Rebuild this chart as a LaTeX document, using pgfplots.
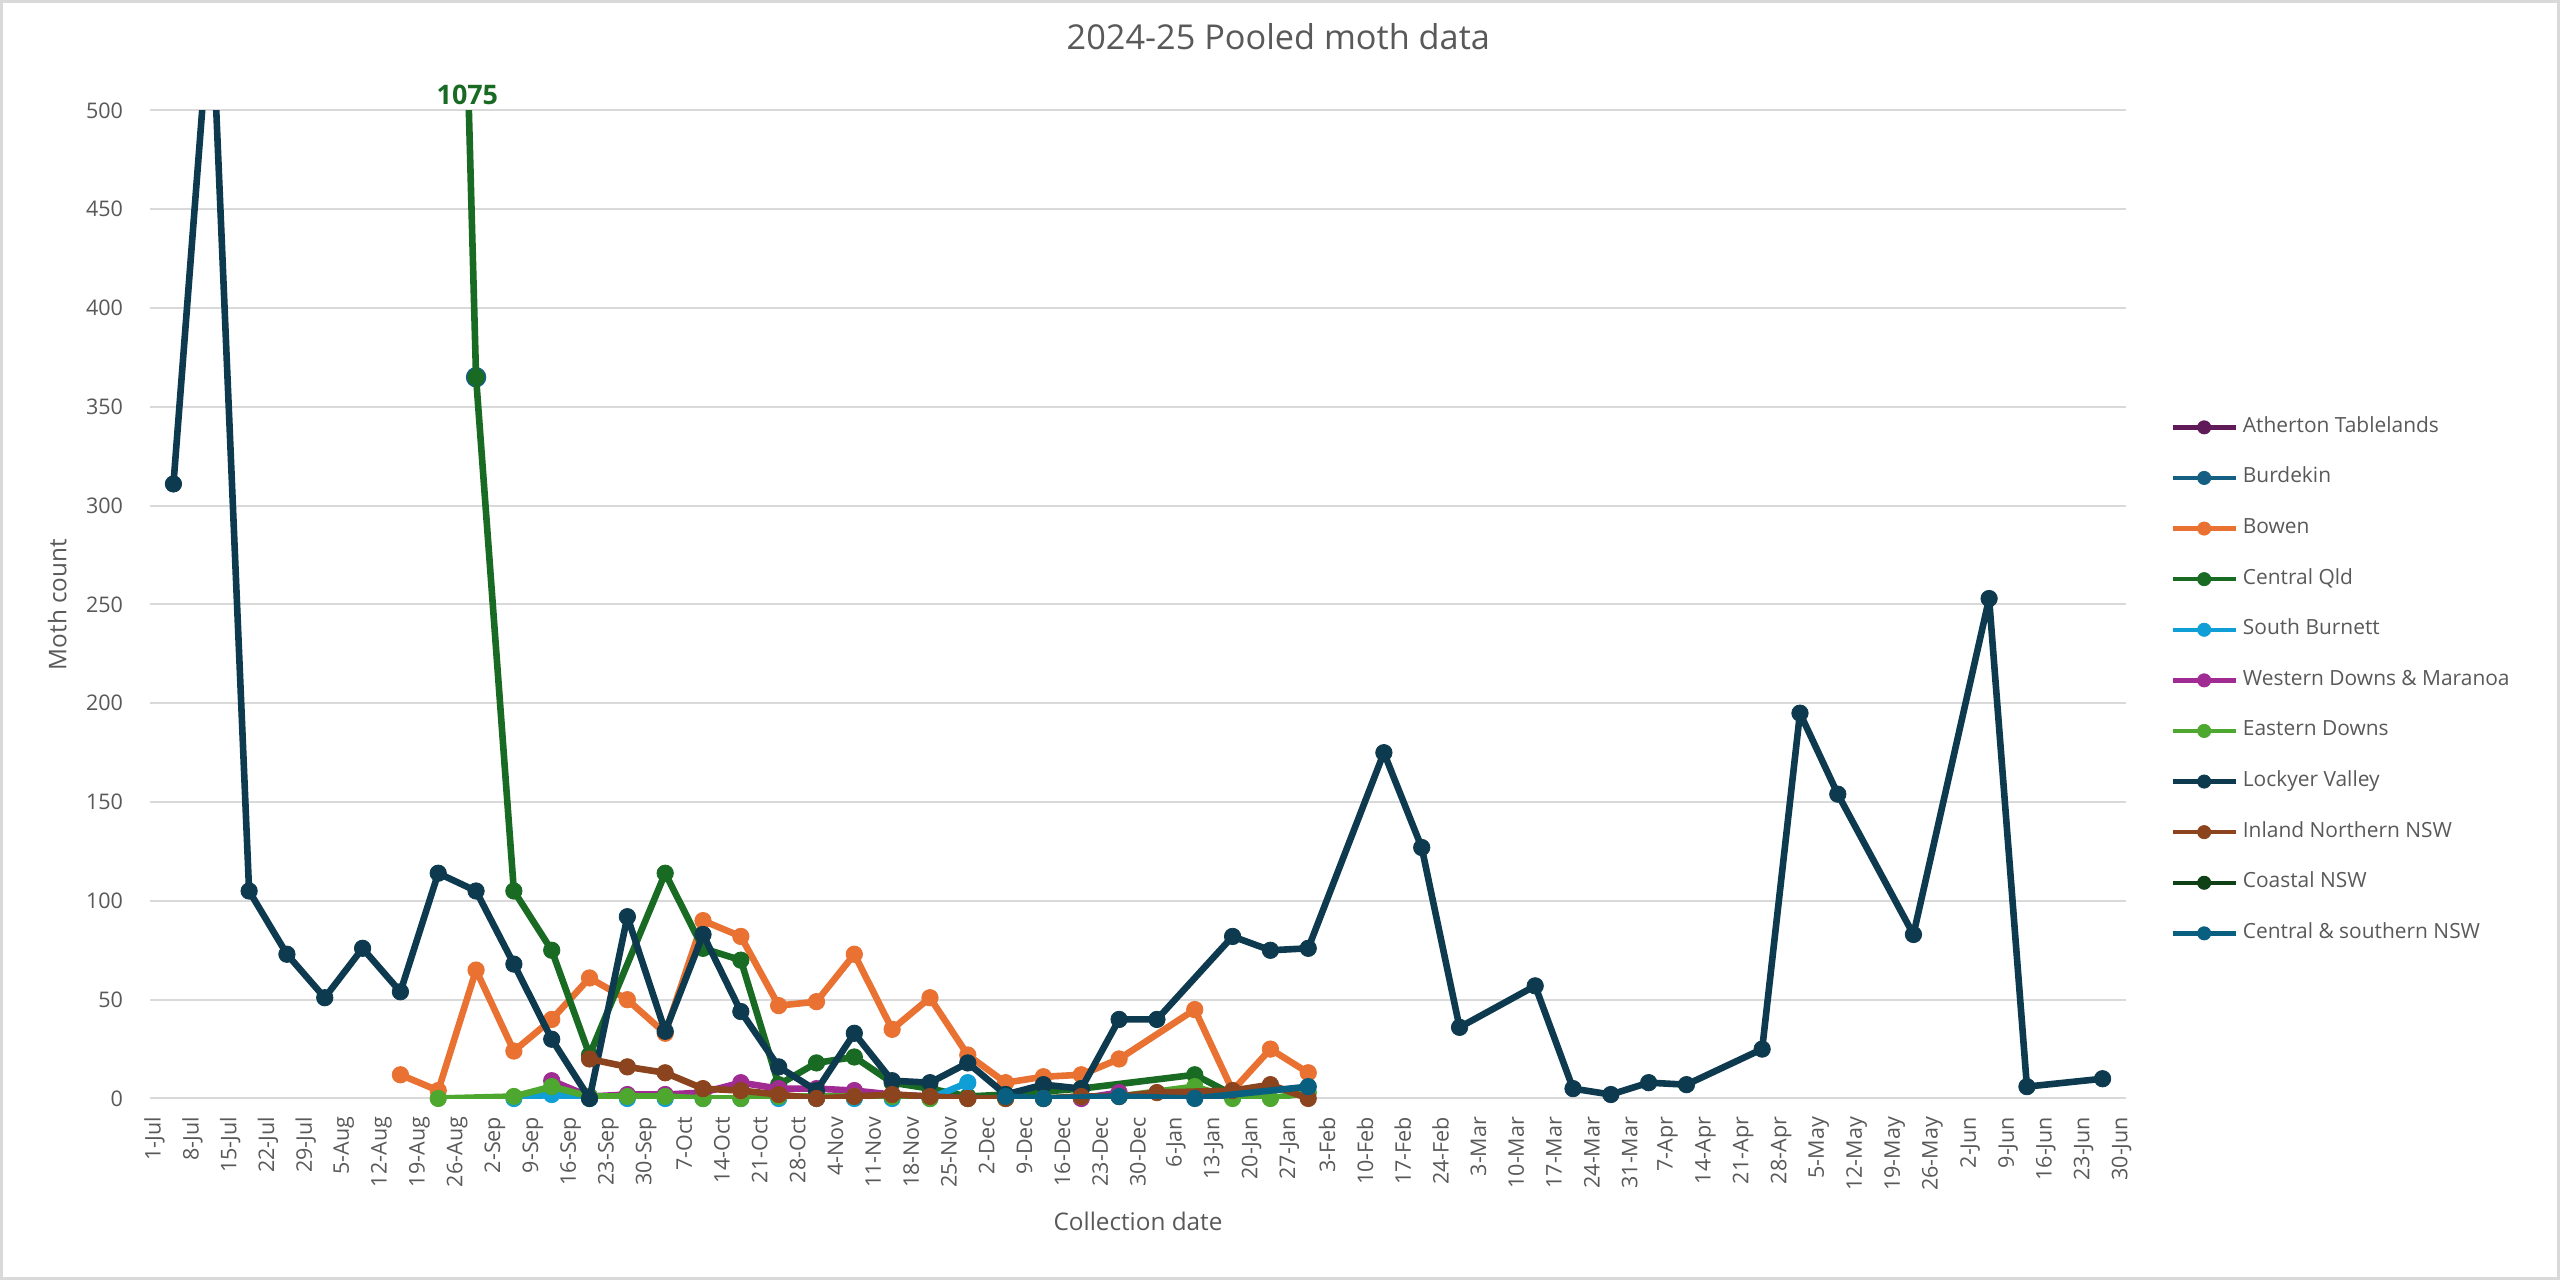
\documentclass[border=0pt]{standalone}
\usepackage{pgfplots}
\pgfplotsset{compat=1.18}
\usepackage{fontspec}
\setmainfont{Open Sans}
\definecolor{cAth}{HTML}{601A58}
\definecolor{cBur}{HTML}{156082}
\definecolor{cBow}{HTML}{E97132}
\definecolor{cCQ}{HTML}{196B24}
\definecolor{cSB}{HTML}{0F9ED5}
\definecolor{cWD}{HTML}{A02B93}
\definecolor{cED}{HTML}{4EA72E}
\definecolor{cLV}{HTML}{0D3A4E}
\definecolor{cINN}{HTML}{8C441E}
\definecolor{cCN}{HTML}{0F4016}
\definecolor{cCSN}{HTML}{095F80}
\definecolor{cText}{HTML}{595959}
\definecolor{cGrid}{HTML}{D9D9D9}
\pgfplotsset{
  ser/.style={color=#1, line width=3.3bp, line join=round, mark=*, mark size=4.1bp, mark options={solid, fill=#1, draw=#1, line width=0.4bp}},
  serline/.style={color=#1, line width=3.3bp, line join=round, no markers},
  sermark/.style={color=#1, only marks, mark=*, mark size=4.1bp, mark options={solid, fill=#1, draw=#1, line width=0.4bp}},
  legser/.style={color=#1, line width=2.2bp, mark=*, mark size=3.3bp, mark options={solid, fill=#1, draw=#1, line width=0.4bp}},
}
\begin{document}
\begin{tikzpicture}[x=1bp,y=1bp]
\useasboundingbox (0,0) rectangle (1280,640);
\fill[white] (0,0) rectangle (1280,640);
\draw[cGrid, line width=1.5bp] (0.75,0.75) rectangle (1279.25,639.25);
\begin{axis}[
  at={(75bp,90.75bp)}, anchor=south west,
  scale only axis, width=988bp, height=494bp,
  xmin=-0.62, xmax=51.62, ymin=0, ymax=500,
  clip mode=individual,
  ytick={0,50,...,500},
  xtick={-0.5,0.5,...,51.5},
  xticklabels={1-Jul,8-Jul,15-Jul,22-Jul,29-Jul,5-Aug,12-Aug,19-Aug,26-Aug,2-Sep,9-Sep,16-Sep,23-Sep,30-Sep,7-Oct,14-Oct,21-Oct,28-Oct,4-Nov,11-Nov,18-Nov,25-Nov,2-Dec,9-Dec,16-Dec,23-Dec,30-Dec,6-Jan,13-Jan,20-Jan,27-Jan,3-Feb,10-Feb,17-Feb,24-Feb,3-Mar,10-Mar,17-Mar,24-Mar,31-Mar,7-Apr,14-Apr,21-Apr,28-Apr,5-May,12-May,19-May,26-May,2-Jun,9-Jun,16-Jun,23-Jun,30-Jun},
  ymajorgrids, grid style={cGrid, line width=1bp},
  axis line style={draw=none},
  major tick length=0pt,
  /pgf/number format/assume math mode=true,
  tick label style={font=\fontsize{10.8}{12}\selectfont, text=cText},
  xticklabel style={rotate=90, anchor=east, inner sep=0pt},
  yticklabel style={anchor=east, inner sep=0pt},
  xticklabel shift=9bp, yticklabel shift=13.3bp,
  title={2024-25 Pooled moth data},
  title style={at={(axis description cs:0.571,1.0622)}, anchor=center, inner sep=0pt, font=\fontsize{17.2}{20}\selectfont, text=cText},
  xlabel={Collection date},
  xlabel style={at={(axis description cs:0.5,-0.124)}, anchor=center, inner sep=0pt, font=\fontsize{12.2}{14}\selectfont, text=cText},
  ylabel={Moth count},
  ylabel style={at={(axis description cs:-0.047,0.5)}, anchor=center, inner sep=0pt, font=\fontsize{12.2}{14}\selectfont, text=cText},
  legend style={at={(axis description cs:1.0223,0.6898)}, anchor=north west, draw=none, fill=none, inner sep=0pt, row sep=15.3bp, font=\fontsize{10.5}{12}\selectfont, text=cText, nodes={inner sep=0pt, text height=7.5bp, text depth=2.5bp}, /tikz/every odd column/.append style={column sep=2.5bp}},
  legend cell align=left,
  legend image code/.code={\draw[mark repeat=2,mark phase=2,#1] plot coordinates {(0bp,0bp) (15.75bp,0bp) (31.5bp,0bp)};},
]
\addlegendimage{legser=cAth}\addlegendentry{Atherton Tablelands}
\addlegendimage{legser=cBur}\addlegendentry{Burdekin}
\addlegendimage{legser=cBow}\addlegendentry{Bowen}
\addlegendimage{legser=cCQ}\addlegendentry{Central Qld}
\addlegendimage{legser=cSB}\addlegendentry{South Burnett}
\addlegendimage{legser=cWD}\addlegendentry{Western Downs \& Maranoa}
\addlegendimage{legser=cED}\addlegendentry{Eastern Downs}
\addlegendimage{legser=cLV}\addlegendentry{Lockyer Valley}
\addlegendimage{legser=cINN}\addlegendentry{Inland Northern NSW}
\addlegendimage{legser=cCN}\addlegendentry{Coastal NSW}
\addlegendimage{legser=cCSN}\addlegendentry{Central \& southern NSW}

% Burdekin
\addplot[ser=cBur, mark size=4.9bp, forget plot] coordinates {(8,365)};
% Bowen
\addplot[ser=cBow, forget plot] coordinates {
(6,12)(7,4)(8,65)(9,24)(10,40)(11,61)(12,50)(13,33)(14,90)(15,82)(16,47)(17,49)(18,73)(19,35)(20,51)(21,22)(22,8)(23,11)(24,12)(25,20)(27,45)(28,4)(29,25)(30,13)};
% Central Qld
\addplot[serline=cCQ, forget plot] coordinates {
(7,1075)(8,365)(9,105)(10,75)(11,22)(13,114)(14,76)(15,70)(16,7)(17,18)(18,21)(19,8)(20,5)(21,1)(22,2)(24,5)(27,12)(28,2)(29,6)};
\addplot[sermark=cCQ, forget plot, restrict y to domain=-10:505] coordinates {
(7,1075)(8,365)(9,105)(10,75)(11,22)(13,114)(14,76)(15,70)(16,7)(17,18)(18,21)(19,8)(20,5)(21,1)(22,2)(24,5)(27,12)(28,2)(29,6)};
% South Burnett
\addplot[ser=cSB, forget plot] coordinates {
(9,0)(10,2)(11,0)(12,0)(13,0)(14,0)(15,0)(16,0)(17,0)(18,0)(19,0)(20,0)(21,8)};
% Western Downs & Maranoa
\addplot[ser=cWD, forget plot] coordinates {
(10,9)(11,1)(12,2)(13,2)(14,3)(15,8)(16,5)(17,5)(18,4)(19,2)(20,1)(21,0)(24,0)(25,3)};
% Eastern Downs
\addplot[ser=cED, forget plot] coordinates {
(7,0)(9,1)(10,6)(11,1)(12,1)(13,1)(14,0)(15,0)(16,1)(17,1)(18,1)(19,1)(20,0)(21,0)(22,0)(23,0)(24,1)(25,1)(27,6)(28,0)(29,0)(30,3)};
% Lockyer Valley
\addplot[serline=cLV, forget plot] coordinates {
(0,311)(1,560)(2,105)(3,73)(4,51)(5,76)(6,54)(7,114)(8,105)(9,68)(10,30)(11,0)(12,92)(13,34)(14,83)(15,44)(16,16)(17,4)(18,33)(19,9)(20,8)(21,18)(22,2)(23,7)(24,5)(25,40)(26,40)(28,82)(29,75)(30,76)(32,175)(33,127)(34,36)(36,57)(37,5)(38,2)(39,8)(40,7)(42,25)(43,195)(44,154)(46,83)(48,253)(49,6)(51,10)};
\addplot[sermark=cLV, forget plot, restrict y to domain=-10:505] coordinates {
(0,311)(1,560)(2,105)(3,73)(4,51)(5,76)(6,54)(7,114)(8,105)(9,68)(10,30)(11,0)(12,92)(13,34)(14,83)(15,44)(16,16)(17,4)(18,33)(19,9)(20,8)(21,18)(22,2)(23,7)(24,5)(25,40)(26,40)(28,82)(29,75)(30,76)(32,175)(33,127)(34,36)(36,57)(37,5)(38,2)(39,8)(40,7)(42,25)(43,195)(44,154)(46,83)(48,253)(49,6)(51,10)};
% Inland Northern NSW
\addplot[ser=cINN, forget plot] coordinates {
(11,20)(12,16)(13,13)(14,5)(15,4)(16,2)(17,0)(18,1)(19,2)(20,1)(21,0)(22,0)(23,0)(24,1)(25,1)(26,3)(28,4)(29,7)(30,0)};
% Central & southern NSW
\addplot[ser=cCSN, forget plot] coordinates {
(22,1)(23,0)(25,1)(27,0)(30,6)};
\node[anchor=south, inner sep=0pt, text=cCQ, font=\bfseries\fontsize{13.5}{15}\selectfont] at (axis cs:7.77,500) [yshift=2.75bp] {1075};
\end{axis}
\end{tikzpicture}
\end{document}
